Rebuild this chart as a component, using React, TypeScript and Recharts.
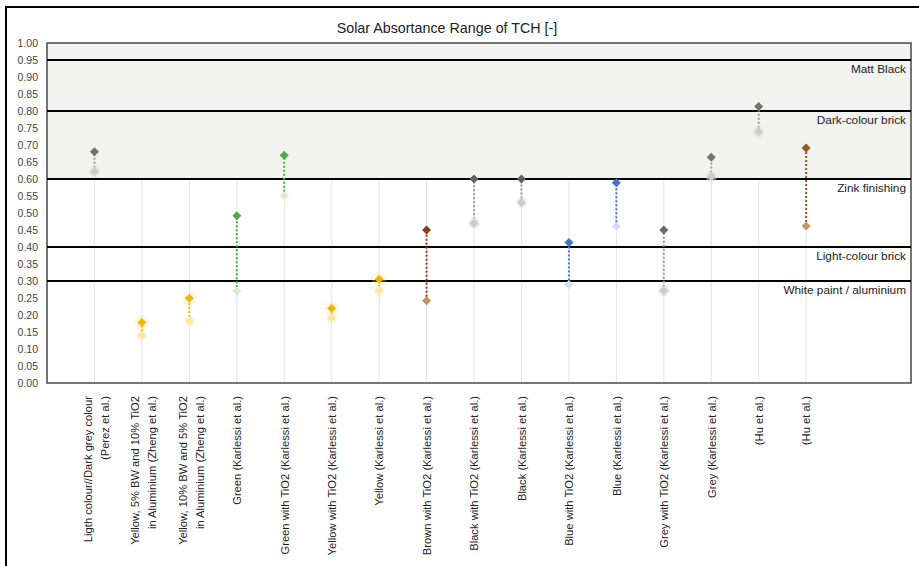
import React from 'react';
import {
  ComposedChart,
  Scatter,
  XAxis,
  YAxis,
  CartesianGrid,
  ReferenceLine,
  ReferenceArea,
} from 'recharts';

const categoryLabels: string[][] = [
  ['Ligth colour//Dark grey colour', '(Perez et al.)'],
  ['Yellow, 5% BW and 10% TiO2', 'in Aluminium (Zheng et al.)'],
  ['Yellow, 10% BW and 5% TiO2', 'in Aluminium (Zheng et al.)'],
  ['Green (Karlessi et al.)'],
  ['Green with TiO2 (Karlessi et al.)'],
  ['Yellow with TiO2 (Karlessi et al.)'],
  ['Yellow (Karlessi et al.)'],
  ['Brown with TiO2 (Karlessi et al.)'],
  ['Black with TiO2 (Karlessi et al.)'],
  ['Black  (Karlessi et al.)'],
  ['Blue with TiO2 (Karlessi et al.)'],
  ['Blue  (Karlessi et al.)'],
  ['Grey with TiO2 (Karlessi et al.)'],
  ['Grey  (Karlessi et al.)'],
  ['(Hu et al.)'],
  ['(Hu et al.)'],
];

const maxValues = [0.68, 0.178, 0.249, 0.492, 0.67, 0.22, 0.305, 0.45, 0.6, 0.6, 0.413, 0.589, 0.45, 0.664, 0.813, 0.691];
const minValues = [0.621, 0.14, 0.182, 0.27, 0.551, 0.19, 0.271, 0.242, 0.47, 0.531, 0.29, 0.461, 0.271, 0.607, 0.739, 0.462];

const darkColors = ['#727272', '#f5b400', '#f5b400', '#4cae3c', '#4cae3c', '#f5b400', '#f5b400', '#8a3f12', '#626262', '#626262', '#4472c4', '#4472c4', '#686868', '#727272', '#727272', '#96561c'];
const lightColors = ['#cdcdcd', '#fde7a2', '#fde7a2', '#d6ecd1', '#d6ecd1', '#fde7a2', '#fde7a2', '#bf915c', '#cbcbcb', '#cbcbcb', '#d3dff3', '#d3dff3', '#cbcbcb', '#cdcdcd', '#cdcdcd', '#c9955a'];
const lineColors = ['#9d9d9d', '#f5b400', '#f5b400', '#4cae3c', '#4cae3c', '#f5b400', '#f5b400', '#8a3f12', '#9a9a9a', '#9a9a9a', '#4472c4', '#4472c4', '#9a9a9a', '#9d9d9d', '#9d9d9d', '#96561c'];
const haloKinds = ['grey', 'yellow', 'yellow', 'none', 'none', 'yellow', 'yellow', 'none', 'grey', 'grey', 'none', 'none', 'grey', 'grey', 'grey', 'none'];

const yTicks = [0, 0.05, 0.1, 0.15, 0.2, 0.25, 0.3, 0.35, 0.4, 0.45, 0.5, 0.55, 0.6, 0.65, 0.7, 0.75, 0.8, 0.85, 0.9, 0.95, 1.0];
const xTicks = categoryLabels.map((_, i) => i + 1);

const zoneLevels = [0.95, 0.8, 0.6, 0.4, 0.3];
const zoneLabels = ['Matt Black', 'Dark-colour brick', 'Zink finishing', 'Light-colour brick', 'White paint / aluminium'];

const FONT = '"Liberation Sans", Arial, Helvetica, sans-serif';

const Diamond = (props: any) => {
  const { cx, cy, payload } = props;
  if (cx == null || cy == null) return null;
  const i = payload.idx;
  const dark = payload.kind === 'dark';
  const color = dark ? darkColors[i] : lightColors[i];
  const r = 4.5;
  const halo = haloKinds[i];
  return (
    <g>
      {halo === 'yellow' && dark && <circle cx={cx} cy={cy} r={7.5} fill="#fbe08a" opacity={0.25} />}
      {halo === 'grey' && !dark && <circle cx={cx} cy={cy} r={5.5} fill="#dcdcdc" opacity={0.5} />}
      {halo === 'yellow' && !dark && <circle cx={cx} cy={cy} r={5} fill="#fdeec0" opacity={0.5} />}
      <polygon
        points={`${cx},${cy - r} ${cx + r},${cy} ${cx},${cy + r} ${cx - r},${cy}`}
        fill={color}
      />
    </g>
  );
};

const XTick = (props: any) => {
  const { x, y, payload } = props;
  const idx = Math.round(payload.value) - 1;
  const lines = categoryLabels[idx] || [];
  const n = lines.length;
  const spacing = 17;
  return (
    <g transform={`translate(${x},${y})`}>
      {lines.map((ln, k) => {
        const off = (k - (n - 1) / 2) * spacing + (n > 1 ? 1.5 : 0);
        return (
          <text
            key={k}
            transform={`translate(${off + 4.3},${5}) rotate(-90)`}
            textAnchor="end"
            fontSize={11.2}
            fontFamily={FONT}
            fill="#222"
          >
            {ln}
          </text>
        );
      })}
    </g>
  );
};

const makeZoneLabel = (text: string) => (p: any) => {
  const vb = p.viewBox || {};
  return (
    <text
      x={vb.x + vb.width - 5}
      y={vb.y + 13}
      textAnchor="end"
      fontSize={11.8}
      fontFamily={FONT}
      fill="#222"
    >
      {text}
    </text>
  );
};

export default function App() {
  const series = categoryLabels.map((_, i) => [
    { x: i + 1, y: minValues[i], idx: i, kind: 'light' },
    { x: i + 1, y: maxValues[i], idx: i, kind: 'dark' },
  ]);

  return (
    <div style={{ position: 'absolute', left: 0, top: 0, width: 919, height: 566, background: '#fff' }}>
      <div
        style={{
          position: 'absolute',
          left: 5,
          top: 6,
          width: 914,
          height: 560,
          borderTop: '2px solid #000',
          borderLeft: '2px solid #000',
          boxSizing: 'border-box',
        }}
      />
      <div
        style={{
          position: 'absolute',
          left: 0,
          top: 19,
          width: 894,
          textAlign: 'center',
          fontFamily: FONT,
          fontSize: 14.3,
          lineHeight: '18px',
          color: '#222',
        }}
      >
        Solar Absortance Range of TCH [-]
      </div>
      <div style={{ position: 'absolute', left: 0, top: 0 }}>
        <ComposedChart
          width={919}
          height={566}
          margin={{ top: 43, right: 8, bottom: 0, left: 0 }}
        >
          <ReferenceArea x1={0} x2={18.21} y1={0.6} y2={1.0} fill="#f2f2f1" fillOpacity={1} stroke="none" ifOverflow="hidden" />
          <CartesianGrid horizontal={false} vertical stroke="#e4e4e4" strokeWidth={1} />
          <XAxis
            type="number"
            dataKey="x"
            domain={[0, 18.21]}
            ticks={xTicks}
            interval={0}
            allowDataOverflow
            axisLine={false}
            tickLine={false}
            height={183}
            tick={<XTick />}
          />
          <YAxis
            type="number"
            dataKey="y"
            domain={[0, 1]}
            ticks={yTicks}
            interval={0}
            width={47}
            axisLine={false}
            tickLine={false}
            tickMargin={3}
            tickFormatter={(v: number) => v.toFixed(2)}
            tick={{ fontSize: 10.5, fill: '#444', fontFamily: FONT }}
          />
          {zoneLevels.map((lv, k) => (
            <ReferenceLine
              key={`zl${k}`}
              y={lv}
              stroke="#000"
              strokeWidth={2}
              label={makeZoneLabel(zoneLabels[k])}
            />
          ))}
          <ReferenceArea x1={0} x2={18.21} y1={0} y2={1} fill="none" stroke="#4a4a4a" strokeWidth={1.5} />
          {series.map((d, i) => (
            <Scatter
              key={`s${i}`}
              data={d}
              isAnimationActive={false}
              line={{ stroke: lineColors[i], strokeWidth: 2, strokeDasharray: '2 2' }}
              shape={<Diamond />}
            />
          ))}
        </ComposedChart>
      </div>
    </div>
  );
}
